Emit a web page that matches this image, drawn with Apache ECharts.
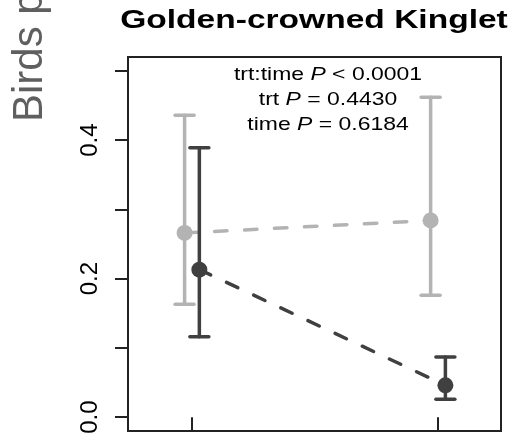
<!DOCTYPE html>
<html>
<head>
<meta charset="utf-8">
<script src="https://cdn.jsdelivr.net/npm/echarts@6/dist/echarts.min.js"></script>
<style>
html,body{margin:0;padding:0;background:#fff;}
#chart{width:514px;height:442px;}
</style>
</head>
<body>
<div id="chart"></div>
<script>
// ---- data ----
const titleText = 'Golden-crowned Kinglet';
const yAxisName = 'Birds p';
const statLines = [
  ['trt:time ', 'P', ' < 0.0001'],
  ['trt ', 'P', ' = 0.4430'],
  ['time ', 'P', ' = 0.6184']
];
const timePoints = [1, 2];
const lightMean = [0.266, 0.284];
const lightLow = [0.163, 0.176];
const lightHigh = [0.436, 0.462];
const darkMean = [0.213, 0.046];
const darkLow = [0.116, 0.026];
const darkHigh = [0.389, 0.087];
const yTicks = [0, 0.1, 0.2, 0.3, 0.4, 0.5];
const yTickLabels = [0, 0.2, 0.4];

// ---- layout / style ----
const dodge = 0.03;
const LIGHT = '#b3b3b3';
const DARK = '#404040';
const FONT = "'Liberation Sans', Arial, sans-serif";

function pts(means, off) {
  return timePoints.map((t, i) => [t + off, means[i]]);
}
function bars(lo, hi, off) {
  return timePoints.map((t, i) => [t + off, lo[i], hi[i]]);
}
function errRender(color) {
  return function (params, api) {
    const x = api.value(0);
    const pLo = api.coord([x, api.value(1)]);
    const pHi = api.coord([x, api.value(2)]);
    const w = 9.5;
    const st = { stroke: color, lineWidth: 3.5, lineCap: 'round' };
    return {
      type: 'group',
      children: [
        { type: 'line', shape: { x1: pLo[0], y1: pLo[1], x2: pHi[0], y2: pHi[1] }, style: st },
        { type: 'line', shape: { x1: pLo[0] - w, y1: pLo[1], x2: pLo[0] + w, y2: pLo[1] }, style: st },
        { type: 'line', shape: { x1: pHi[0] - w, y1: pHi[1], x2: pHi[0] + w, y2: pHi[1] }, style: st }
      ]
    };
  };
}

const chart = echarts.init(document.getElementById('chart'), null, { renderer: 'canvas' });

const graphics = [
  {
    type: 'text', x: 314, y: 21, scaleX: 1.29, z: 10,
    style: { text: titleText, font: 'bold 26px ' + FONT, fill: '#000', align: 'center', verticalAlign: 'middle' }
  },
  {
    type: 'text', x: 30, y: 122, rotation: Math.PI / 2, z: 10,
    style: { text: yAxisName, font: '42px ' + FONT, fill: '#5f5f5f', align: 'left', verticalAlign: 'middle' }
  }
];
statLines.forEach((ln, i) => {
  graphics.push({
    type: 'text', x: 328, y: 75 + i * 25, scaleX: 1.24, z: 10,
    style: {
      text: '{n|' + ln[0] + '}{i|' + ln[1] + '}{n|' + ln[2] + '}',
      align: 'center', verticalAlign: 'middle',
      rich: {
        n: { fontFamily: FONT, fontSize: 18.5, fill: '#000' },
        i: { fontFamily: FONT, fontSize: 18.5, fontStyle: 'italic', fill: '#000' }
      }
    }
  });
});

chart.setOption({
  animation: false,
  backgroundColor: '#fff',
  grid: {
    left: 128, top: 57, right: 13, bottom: 11,
    show: true, borderColor: '#222', borderWidth: 2, backgroundColor: 'transparent'
  },
  xAxis: {
    type: 'value', min: 0.74, max: 2.256,
    axisLine: { show: false },
    splitLine: { show: false },
    axisTick: { show: true, inside: false, length: 14, customValues: timePoints, lineStyle: { color: '#222', width: 2 } },
    axisLabel: { show: false }
  },
  yAxis: {
    type: 'value', min: -0.02, max: 0.52,
    axisLine: { show: false },
    splitLine: { show: false },
    axisTick: { show: true, inside: false, length: 13, customValues: yTicks, lineStyle: { color: '#222', width: 2 } },
    axisLabel: {
      show: true, customValues: yTickLabels, rotate: 90, margin: 26,
      fontSize: 24, fontFamily: FONT, color: '#000',
      formatter: v => Number(v).toFixed(1)
    }
  },
  graphic: graphics,
  series: [
    {
      type: 'line', data: pts(lightMean, -dodge), symbol: 'none', z: 1,
      lineStyle: { color: LIGHT, width: 3.5, type: [12.5, 17.5], cap: 'round' }
    },
    {
      type: 'line', data: pts(darkMean, dodge), symbol: 'none', z: 1,
      lineStyle: { color: DARK, width: 3.5, type: [12.5, 17.5], cap: 'round' }
    },
    { type: 'custom', data: bars(lightLow, lightHigh, -dodge), renderItem: errRender(LIGHT), z: 2 },
    { type: 'custom', data: bars(darkLow, darkHigh, dodge), renderItem: errRender(DARK), z: 2 },
    {
      type: 'scatter', data: pts(lightMean, -dodge), symbol: 'circle', symbolSize: 16, z: 3,
      itemStyle: { color: LIGHT, opacity: 1 }
    },
    {
      type: 'scatter', data: pts(darkMean, dodge), symbol: 'circle', symbolSize: 16, z: 3,
      itemStyle: { color: DARK, opacity: 1 }
    }
  ]
});
</script>
</body>
</html>
